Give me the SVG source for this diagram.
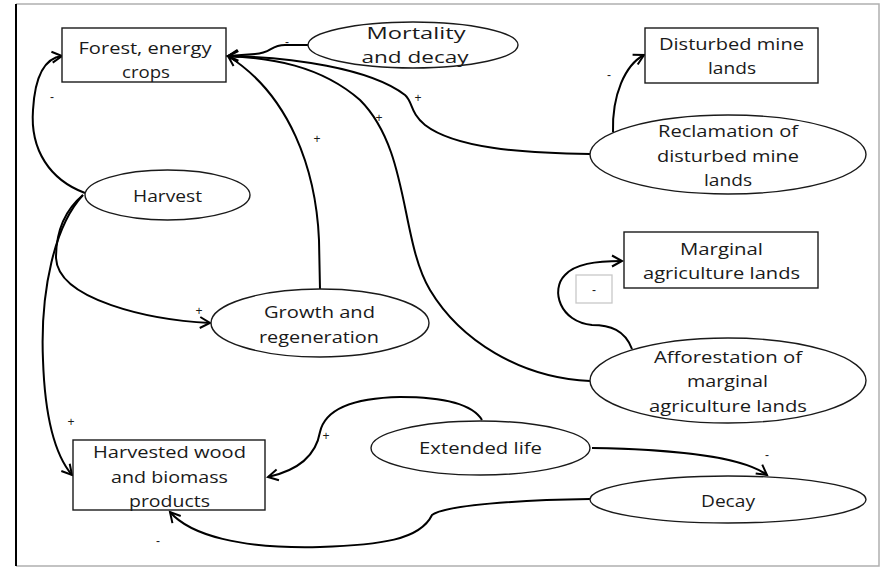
<svg xmlns="http://www.w3.org/2000/svg" width="881" height="567" viewBox="0 0 881 567">
<style>
.n{fill:#fff;stroke:#1a1a1a;stroke-width:1.4}
.t{font-family:"Open Sans","Liberation Sans",sans-serif;font-size:17px;fill:#1a1a1a;text-anchor:middle}
.l{font-family:"Liberation Sans",sans-serif;font-size:12px;fill:#1a1a1a;text-anchor:middle}
.c{fill:none;stroke:#000;stroke-width:2}
</style>
<defs>
<marker id="a" markerUnits="userSpaceOnUse" markerWidth="16" markerHeight="16" viewBox="-12 -8 14 16" refX="0" refY="0" orient="auto">
<path d="M-10,-5.5 L0,0 L-10,5.5" fill="none" stroke="#000" stroke-width="2"/>
</marker>
</defs>
<rect x="0" y="0" width="881" height="567" fill="#fff"/>
<g id="frame">
<polyline points="16,4 879,4 879,566 16,566" fill="none" stroke="#b0b0b0" stroke-width="1.5"/>
<line x1="16" y1="4" x2="16" y2="566" stroke="#000" stroke-width="2"/>
</g>
<g id="connectors">
<path class="c" marker-end="url(#a)" d="M308,45 L285,45 C270,45 272,53 255,54 L228,56"/>
<path class="c" marker-end="url(#a)" d="M590,154 C520,153 455,148 425,125 C410,113 413,102 405,95 C370,68 290,57 228,56"/>
<path class="c" marker-end="url(#a)" d="M590,381 C520,378 460,340 430,290 C400,240 410,150 360,100 C320,65 270,58 228,56"/>
<path class="c" marker-end="url(#a)" d="M320,289 L319,240 C316,170 290,95 228,56"/>
<path class="c" marker-end="url(#a)" d="M85,193 C50,180 30,150 33,110 C35,75 45,58 62,56"/>
<path class="c" marker-end="url(#a)" d="M83,195 C65,210 56,230 56,258 C58,300 150,320 210,323"/>
<path class="c" marker-end="url(#a)" d="M83,195 C55,225 40,290 43,360 C45,420 55,455 72,475"/>
<path class="c" marker-end="url(#a)" d="M482,420 C470,400 430,397 400,397 C350,398 325,410 320,432 C316,455 300,470 268,477"/>
<path class="c" marker-end="url(#a)" d="M592,448 C660,449 740,455 767,475"/>
<path class="c" marker-end="url(#a)" d="M590,499 C520,500 445,505 432,515 C420,540 380,545 320,547 C240,549 190,535 170,512"/>
<path class="c" marker-end="url(#a)" d="M613,132 C612,95 625,65 644,55"/>
<path class="c" marker-end="url(#a)" d="M632,349 C625,330 610,325 592,325 C560,322 550,290 565,275 C575,264 595,261 622,261"/>
<text class="l" x="287" y="46">-</text>
<text class="l" x="418" y="102">+</text>
<text class="l" x="379" y="122">+</text>
<text class="l" x="317" y="143">+</text>
<text class="l" x="52" y="101">-</text>
<text class="l" x="609" y="79">-</text>
<text class="l" x="199" y="315">+</text>
<text class="l" x="71" y="426">+</text>
<text class="l" x="158" y="545">-</text>
<text class="l" x="326" y="440">+</text>
<text class="l" x="767" y="459">-</text>
<rect x="576" y="275" width="36" height="28" fill="#fff" stroke="#c8c8c8" stroke-width="1.3"/>
<text class="l" x="594" y="294">-</text>
</g>
<g id="forest">
<rect class="n" x="62" y="28" width="164" height="54"/>
<text class="t" x="145" y="54" textLength="133" lengthAdjust="spacingAndGlyphs">Forest, energy</text>
<text class="t" x="146" y="78" textLength="48" lengthAdjust="spacingAndGlyphs">crops</text>
</g>
<g id="mortality">
<ellipse class="n" cx="413" cy="45" rx="105" ry="23"/>
<text class="t" x="416" y="39" textLength="99" lengthAdjust="spacingAndGlyphs">Mortality</text>
<text class="t" x="415" y="63" textLength="107" lengthAdjust="spacingAndGlyphs">and decay</text>
</g>
<g id="disturbed">
<rect class="n" x="645" y="28" width="173" height="55"/>
<text class="t" x="731.5" y="50" textLength="145" lengthAdjust="spacingAndGlyphs">Disturbed mine</text>
<text class="t" x="732" y="74" textLength="48" lengthAdjust="spacingAndGlyphs">lands</text>
</g>
<g id="reclamation">
<ellipse class="n" cx="728" cy="154.5" rx="138" ry="39.5"/>
<text class="t" x="728" y="137" textLength="140" lengthAdjust="spacingAndGlyphs">Reclamation of</text>
<text class="t" x="728" y="162" textLength="142" lengthAdjust="spacingAndGlyphs">disturbed mine</text>
<text class="t" x="728" y="186" textLength="48" lengthAdjust="spacingAndGlyphs">lands</text>
</g>
<g id="harvest">
<ellipse class="n" cx="167.5" cy="195" rx="82.5" ry="25"/>
<text class="t" x="167.5" y="202" textLength="69" lengthAdjust="spacingAndGlyphs">Harvest</text>
</g>
<g id="growth">
<ellipse class="n" cx="320" cy="323" rx="109" ry="34"/>
<text class="t" x="319.5" y="318" textLength="111" lengthAdjust="spacingAndGlyphs">Growth and</text>
<text class="t" x="319" y="343" textLength="120" lengthAdjust="spacingAndGlyphs">regeneration</text>
</g>
<g id="marginal">
<rect class="n" x="624" y="232" width="194" height="56"/>
<text class="t" x="721.5" y="255" textLength="83" lengthAdjust="spacingAndGlyphs">Marginal</text>
<text class="t" x="721.5" y="279" textLength="157" lengthAdjust="spacingAndGlyphs">agriculture lands</text>
</g>
<g id="afforestation">
<ellipse class="n" cx="728" cy="380.5" rx="138" ry="42.5"/>
<text class="t" x="728" y="363" textLength="148" lengthAdjust="spacingAndGlyphs">Afforestation of</text>
<text class="t" x="727.5" y="387" textLength="81" lengthAdjust="spacingAndGlyphs">marginal</text>
<text class="t" x="728" y="412" textLength="158" lengthAdjust="spacingAndGlyphs">agriculture lands</text>
</g>
<g id="extended">
<ellipse class="n" cx="480.5" cy="448" rx="109.5" ry="27"/>
<text class="t" x="480.5" y="454" textLength="123" lengthAdjust="spacingAndGlyphs">Extended life</text>
</g>
<g id="decay">
<ellipse class="n" cx="728" cy="499.5" rx="138" ry="23.5"/>
<text class="t" x="728" y="507" textLength="54" lengthAdjust="spacingAndGlyphs">Decay</text>
</g>
<g id="harvested">
<rect class="n" x="73" y="440" width="192" height="70"/>
<text class="t" x="169.5" y="458" textLength="153" lengthAdjust="spacingAndGlyphs">Harvested wood</text>
<text class="t" x="169.5" y="483" textLength="117" lengthAdjust="spacingAndGlyphs">and biomass</text>
<text class="t" x="169.5" y="507" textLength="81" lengthAdjust="spacingAndGlyphs">products</text>
</g>
</svg>
